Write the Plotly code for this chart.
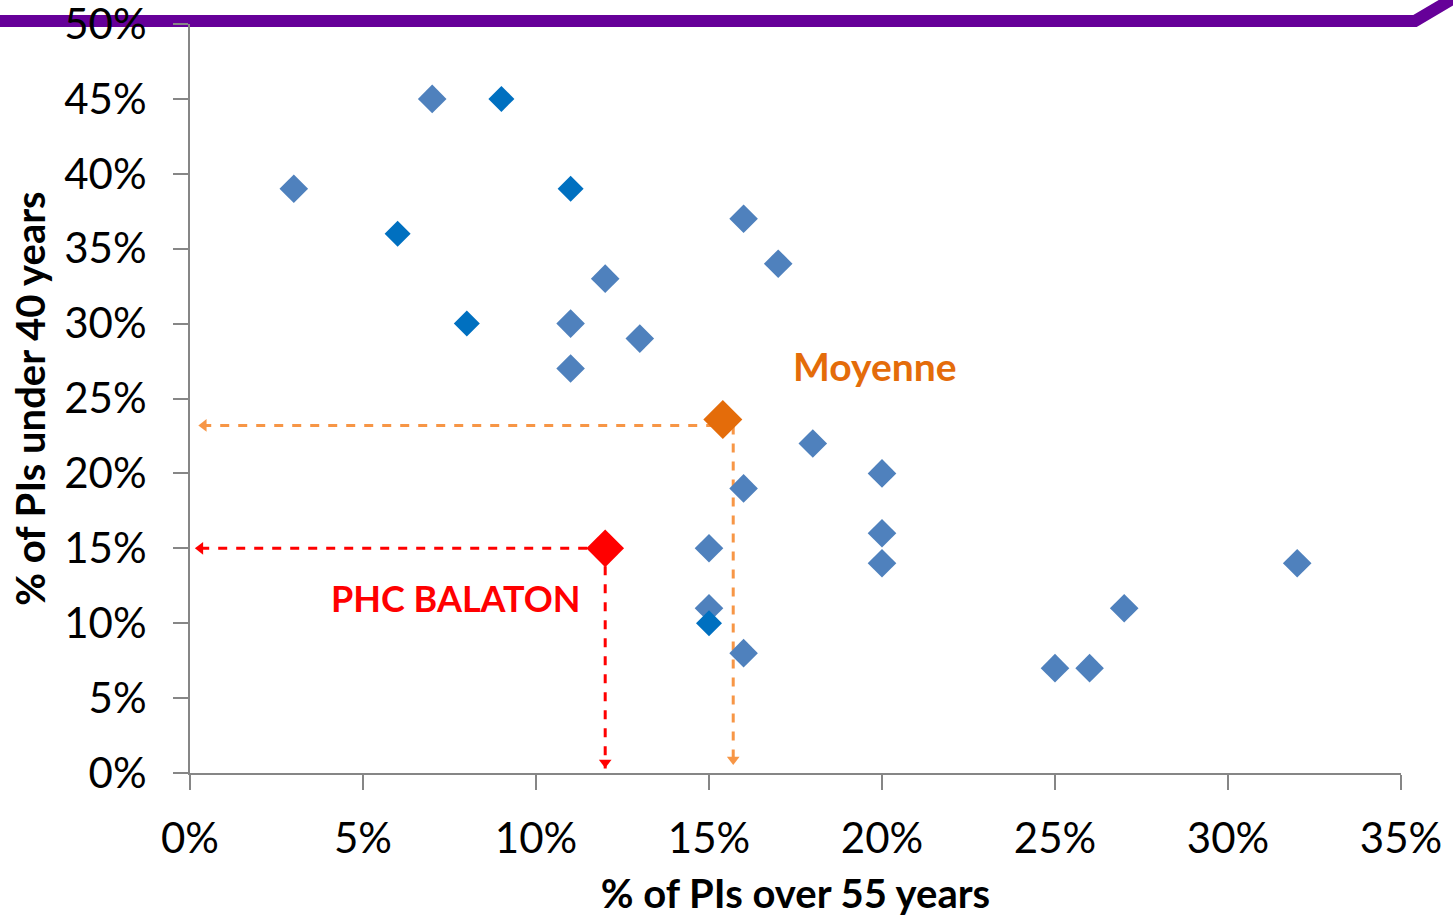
import plotly.graph_objects as go

# lighter blue points (% over 55, % under 40)
light_x = [3, 7, 11, 11, 12, 13, 16, 17, 18, 16, 15, 15, 16, 20, 20, 20, 25, 26, 27, 32]
light_y = [39, 45, 30, 27, 33, 29, 37, 34, 22, 19, 15, 11, 8, 20, 16, 14, 7, 7, 11, 14]
# darker blue points
dark_x = [9, 11, 6, 8, 15]
dark_y = [45, 39, 36, 30, 10]

moy_x, moy_y = 15.4, 23.6
moy_arrow_x, moy_arrow_y = 15.7, 23.2
phc_x, phc_y = 12, 15

x_ticks = [0, 5, 10, 15, 20, 25, 30, 35]
y_ticks = [0, 5, 10, 15, 20, 25, 30, 35, 40, 45, 50]

font = "Lato, 'Open Sans', sans-serif"
orange_line = "#F79646"

fig = go.Figure()

# dashed guide lines
fig.add_trace(go.Scatter(
    x=[moy_arrow_x, 0.25], y=[moy_arrow_y, moy_arrow_y], mode="lines",
    line=dict(color=orange_line, width=3, dash="dash"), hoverinfo="skip"))
fig.add_trace(go.Scatter(
    x=[moy_arrow_x, moy_arrow_x], y=[moy_arrow_y, 0.6], mode="lines",
    line=dict(color=orange_line, width=3, dash="dash"), hoverinfo="skip"))
fig.add_trace(go.Scatter(
    x=[phc_x, 0.1], y=[phc_y, phc_y], mode="lines",
    line=dict(color="#FF0000", width=3, dash="dash"), hoverinfo="skip"))
fig.add_trace(go.Scatter(
    x=[phc_x, phc_x], y=[phc_y, 0.3], mode="lines",
    line=dict(color="#FF0000", width=3, dash="dash"), hoverinfo="skip"))

# arrow heads
fig.add_trace(go.Scatter(
    x=[0.4], y=[moy_arrow_y], mode="markers",
    marker=dict(symbol="triangle-left", size=11, color=orange_line)))
fig.add_trace(go.Scatter(
    x=[moy_arrow_x], y=[0.9], mode="markers",
    marker=dict(symbol="triangle-down", size=11, color=orange_line)))
fig.add_trace(go.Scatter(
    x=[0.3], y=[phc_y], mode="markers",
    marker=dict(symbol="triangle-left", size=11, color="#FF0000")))
fig.add_trace(go.Scatter(
    x=[phc_x], y=[0.7], mode="markers",
    marker=dict(symbol="triangle-down", size=11, color="#FF0000")))

fig.add_trace(go.Scatter(
    x=light_x, y=light_y, mode="markers",
    marker=dict(symbol="diamond", size=22, color="#4F81BD",
                line=dict(width=0))))
fig.add_trace(go.Scatter(
    x=dark_x, y=dark_y, mode="markers",
    marker=dict(symbol="diamond", size=20, color="#0070C0",
                line=dict(width=0))))
fig.add_trace(go.Scatter(
    x=[moy_x], y=[moy_y], mode="markers",
    marker=dict(symbol="diamond", size=30, color="#E46C0A",
                line=dict(width=0))))
fig.add_trace(go.Scatter(
    x=[phc_x], y=[phc_y], mode="markers",
    marker=dict(symbol="diamond", size=29, color="#FF0000",
                line=dict(width=0))))

fig.add_annotation(x=19.8, y=27.2, text="<b>Moyenne</b>", showarrow=False,
                   font=dict(family=font, size=39, color="#E46C0A"))
fig.add_annotation(x=7.7, y=11.7, text="<b>PHC BALATON</b>", showarrow=False,
                   font=dict(family=font, size=36, color="#FF0000"))

# purple band at top, drawn under the tick labels
fig.add_shape(type="path", xref="paper", yref="paper", layer="below",
              path="M -0.2,1.004 L 1.0116,1.004 L 1.045,1.036",
              line=dict(color="#660099", width=12))

fig.update_layout(
    width=1453, height=917,
    margin=dict(l=190, r=52, t=24, b=144),
    paper_bgcolor="white", plot_bgcolor="rgba(0,0,0,0)",
    showlegend=False,
    font=dict(family=font, color="black"),
)
fig.update_xaxes(
    range=[0, 35], tickvals=x_ticks, ticktext=[f"{v}%" for v in x_ticks],
    showgrid=False, zeroline=False, showline=True, linecolor="#868686",
    linewidth=2, ticks="outside", ticklen=15, tickwidth=2, tickcolor="#868686",
    ticklabelstandoff=13, automargin=False,
    tickfont=dict(size=42), title=dict(text="<b>% of PIs over 55 years</b>",
                                       font=dict(size=40), standoff=20),
)
fig.update_yaxes(
    range=[0, 50], tickvals=y_ticks, ticktext=[f"{v}%" for v in y_ticks],
    showgrid=False, zeroline=False, showline=True, linecolor="#868686",
    linewidth=2, ticks="outside", ticklen=15, tickwidth=2, tickcolor="#868686",
    ticklabelstandoff=18, ticklabeloverflow="allow", automargin=False,
    tickfont=dict(size=42), title=dict(text="<b>% of PIs under 40 years</b>",
                                       font=dict(size=40), standoff=6),
)

fig.write_html("out.html", config={"displayModeBar": False},
               post_script="document.body.style.margin='0';")
